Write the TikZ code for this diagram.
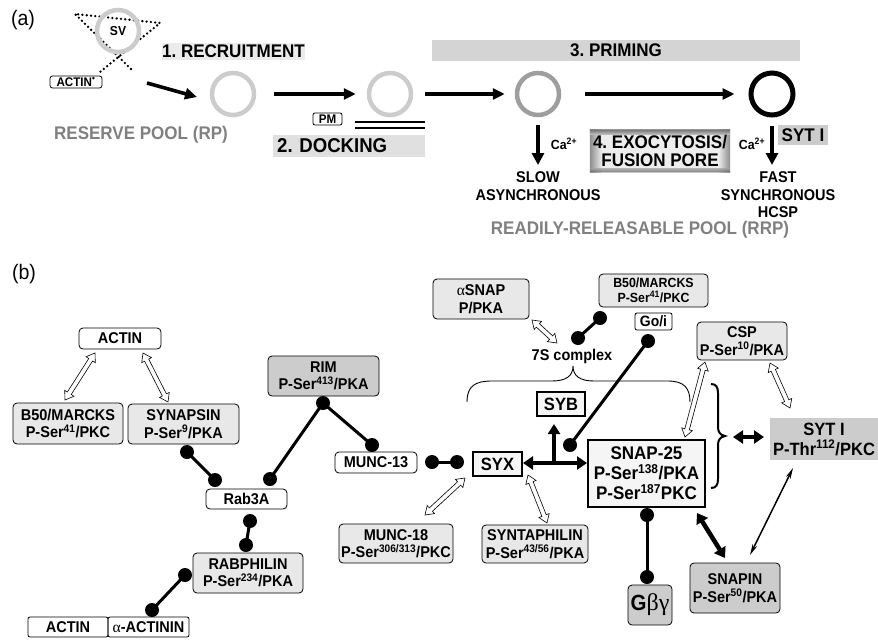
\documentclass[tikz,border=0pt]{standalone}
\usepackage{fontspec}
\setmainfont{Liberation Sans}[FakeStretch=0.93]
\newfontfamily\grk{Liberation Serif}
\usetikzlibrary{arrows.meta,calc}
\definecolor{ringL}{gray}{0.80}
\definecolor{ringM}{gray}{0.62}
\definecolor{boxL}{gray}{0.91}
\definecolor{boxD}{gray}{0.80}
\definecolor{boxT}{gray}{0.96}
\definecolor{txtG}{gray}{0.50}
\definecolor{bgA}{gray}{0.92}
\definecolor{bgB}{gray}{0.88}
\definecolor{bgC}{gray}{0.83}
\definecolor{bgD}{gray}{0.80}
\definecolor{exoD}{gray}{0.55}
\definecolor{exoL}{gray}{0.93}
\newcommand\harrow[2]{%
  \draw[harr] let \p1=($(#2)-(#1)$), \n1={atan2(\y1,\x1)}, \n2={veclen(\x1,\y1)} in
  [shift={(#1)}, rotate=\n1] (0,0) -- (8,5.5) -- (8,2.3) -- (\n2-8,2.3) -- (\n2-8,5.5) -- (\n2,0)
  -- (\n2-8,-5.5) -- (\n2-8,-2.3) -- (8,-2.3) -- (8,-5.5) -- cycle;}
\newcommand\ga{{\grk\mdseries α}}
\begin{document}
\frenchspacing
\begin{tikzpicture}[x=1pt,y=-1pt,
  pbox/.style={draw, rounded corners=4pt, line width=0.8pt, inner sep=0pt, align=center},
  tbox/.style={draw, line width=2.6pt, inner sep=0pt, align=center, fill=boxT},
  fa/.style={font=\fontsize{18.3}{20}\selectfont\bfseries},
  fb/.style={font=\fontsize{15.6}{17.5}\selectfont\bfseries},
  fc/.style={font=\fontsize{13.3}{15}\selectfont\bfseries},
  fd/.style={font=\fontsize{17.8}{20}\selectfont\bfseries},
  ring/.style={circle, draw=#1, line width=4.5pt, minimum size=42pt, inner sep=0pt},
  arr/.style={line width=3.6pt, -{Triangle[length=12pt,width=11pt]}},
  dot/.style={circle, fill, inner sep=0pt, minimum size=14pt},
  lolly/.style={line width=3pt},
  harr/.style={draw, fill=white, line width=0.6pt, line join=miter},
  barr/.style={line width=4.5pt, {Triangle[length=10pt,width=13pt]}-{Triangle[length=10pt,width=13pt]}},
]
\useasboundingbox (0,0) rectangle (878,640);

% ---------------- (a) ----------------
\node[font=\fontsize{21}{24}\selectfont] (la) at (23,20) {(a)};
\coordinate (t1) at (75,14);
\coordinate (t2) at (160,23);
\coordinate (t3) at (131,69);
\coordinate (t4) at (100,72);
\draw[line width=2.6pt, dash pattern=on 0pt off 4.3pt, line cap=round] (t3) -- (t1) -- (t2) -- (t4);
\node[ring=ringL, font=\fontsize{13}{14}\selectfont\bfseries] (sv) at (118,31) {SV};
\node[pbox, fill=white, rounded corners=2.5pt, minimum width=52pt, minimum height=12pt,
      font=\fontsize{12.5}{13}\selectfont\bfseries] (actinS) at (76,82) {ACTIN\textsuperscript{•}};

\node[ring=ringL] (rp) at (233,94) {};
\node[ring=ringL] (c3) at (390,94) {};
\node[ring=ringM] (c4) at (538,94) {};
\node[ring=black, line width=5pt] (c5) at (772,94) {};

\coordinate (a1s) at (147,83);
\coordinate (a1e) at (197,97);
\draw[arr] (a1s) -- (a1e);
\draw[arr, shorten <=18pt, shorten >=11pt] (rp) -- (c3);
\draw[arr, shorten <=12pt, shorten >=10pt] (c3) -- (c4);
\draw[arr, shorten <=24pt, shorten >=14pt] (c4) -- (c5);

\node[fill=bgA, fa, inner sep=0pt, minimum width=143pt, minimum height=17pt] (rec) at (233.5,51.5) {1. RECRUITMENT};
\node[fa, text=txtG] (rpl) at (141,135) {RESERVE POOL (RP)};
\node[pbox, fill=white, rounded corners=2pt, minimum width=29pt, minimum height=12pt,
      font=\fontsize{12.5}{13}\selectfont\bfseries] (pm) at (327.5,119) {PM};
\coordinate (m1a) at (355,122); \coordinate (m1b) at (425,122);
\coordinate (m2a) at (355,128); \coordinate (m2b) at (425,128);
\draw[line width=2pt] (m1a) -- (m1b);
\draw[line width=2pt] (m2a) -- (m2b);
\node[fill=bgB, font=\fontsize{20}{22}\selectfont\bfseries, anchor=west, inner xsep=4pt, inner ysep=0pt,
      text width=144pt, align=left, minimum height=22pt] (dock) at (273,146) {2. DOCKING};
\node[fill=bgC, fa, inner sep=0pt, minimum width=368pt, minimum height=21pt] (prim) at (616,50.5) {3. PRIMING};

\coordinate (sa) at (538,165);
\coordinate (fa) at (772,165);
\draw[line width=4pt, -{Triangle[length=12pt,width=12pt]}, shorten <=8pt] (c4) -- (sa);
\draw[line width=4pt, -{Triangle[length=12pt,width=12pt]}, shorten <=8pt] (c5) -- (fa);
\node[fc] (ca1) at (564,144) {Ca\textsuperscript{2+}};
\node[fc] (ca2) at (752,144) {Ca\textsuperscript{2+}};

% exocytosis box: light centre, darker edges
\node[fill=exoL, inner sep=0pt, minimum width=140pt, minimum height=42pt] (exo) at (660,151) {};
\fill[left color=exoD, right color=exoL] (exo.north west) rectangle ([xshift=12pt]exo.south west);
\fill[left color=exoL, right color=exoD] ([xshift=-12pt]exo.north east) rectangle (exo.south east);
\fill[top color=exoD, bottom color=exoL, opacity=0.8] (exo.north west) rectangle ([yshift=-5pt]exo.north east);
\fill[top color=exoL, bottom color=exoD, opacity=0.5] ([yshift=4pt]exo.south west) rectangle (exo.south east);
\node[align=center, font=\fontsize{18.3}{18}\selectfont\bfseries] (exot) at (exo) {4. EXOCYTOSIS/\\FUSION PORE};
\node[fill=bgD, fa, inner sep=0pt, minimum width=50pt, minimum height=20pt] (sytA) at (803,135) {SYT I};

\node[font=\fontsize{15.6}{18}\selectfont\bfseries, align=center] (slow) at (538,186) {SLOW\\ASYNCHRONOUS};
\node[font=\fontsize{15.6}{17.5}\selectfont\bfseries, align=center] (fast) at (778,195) {FAST\\SYNCHRONOUS\\HCSP};
\node[fa, text=txtG] (rrp) at (640,230) {READILY-RELEASABLE POOL (RRP)};

% ---------------- (b) ----------------
\node[font=\fontsize{21}{24}\selectfont] (lb) at (24,274) {(b)};

\node[pbox, fb, minimum width=82pt, minimum height=21pt] (actinT) at (120,338.5) {ACTIN};
\node[pbox, fb, fill=boxL, minimum width=110pt, minimum height=41pt] (b50L) at (68,423.5) {B50/MARCKS\\P-Ser\textsuperscript{41}/PKC};
\node[pbox, fb, fill=boxL, minimum width=111pt, minimum height=40pt] (synapsin) at (183.5,424) {SYNAPSIN\\P-Ser\textsuperscript{9}/PKA};
\node[pbox, fb, fill=boxD, minimum width=111pt, minimum height=40pt] (rim) at (323.5,376) {RIM\\P-Ser\textsuperscript{413}/PKA};
\node[pbox, fb, minimum width=82pt, minimum height=21pt] (munc13) at (376,462.5) {MUNC-13};
\node[pbox, fb, minimum width=81pt, minimum height=20pt] (rab) at (246.5,499) {Rab3A};
\node[pbox, fb, fill=boxL, minimum width=110pt, minimum height=40pt] (rabph) at (248,573) {RABPHILIN\\P-Ser\textsuperscript{234}/PKA};
\node[pbox, fb, rounded corners=2pt, minimum width=80pt, minimum height=20pt] (actinB) at (68,627) {ACTIN};
\node[pbox, fb, rounded corners=2pt, minimum width=81pt, minimum height=20pt] (actinin) at (148.5,627) {\ga-ACTININ};
\node[pbox, fb, fill=boxL, minimum width=114pt, minimum height=39pt] (munc18) at (396,543.5) {MUNC-18\\P-Ser\textsuperscript{306/313}/PKC};
\node[pbox, fb, fill=boxL, minimum width=96pt, minimum height=40pt] (asnap) at (481,299) {\ga SNAP\\P/PKA};
\node[pbox, fc, fill=boxL, minimum width=109pt, minimum height=33pt] (b50R) at (653.5,290.5) {B50/MARCKS\\P-Ser\textsuperscript{41}/PKC};
\node[pbox, rounded corners=2pt, font=\fontsize{15}{16}\selectfont\bfseries, minimum width=37pt, minimum height=17pt] (goi) at (653.5,321.5) {Go/i};
\node[fb] (s7) at (572,356) {7S complex};
\node[tbox, fd, minimum width=48pt, minimum height=24pt] (syb) at (561,404) {SYB};
\node[tbox, fd, minimum width=49pt, minimum height=24pt] (syx) at (497.5,464) {SYX};
\node[pbox, fb, fill=boxL, minimum width=106pt, minimum height=38pt] (synta) at (535,544) {SYNTAPHILIN\\P-Ser\textsuperscript{43/56}/PKA};
\node[tbox, font=\fontsize{18.3}{20}\selectfont\bfseries, minimum width=117pt, minimum height=67pt] (snap) at (646.5,473.5) {SNAP-25\\P-Ser\textsuperscript{138}/PKA\\P-Ser\textsuperscript{187}PKC};
\node[pbox, fb, fill=boxL, minimum width=90pt, minimum height=38pt] (csp) at (742,341) {CSP\\P-Ser\textsuperscript{10}/PKA};
\node[fill=boxD, fd, inner sep=0pt, align=center, minimum width=108pt, minimum height=42pt] (sytB) at (824,439) {SYT I\\P-Thr\textsuperscript{112}/PKC};
\node[pbox, fb, fill=boxD, minimum width=90pt, minimum height=50pt] (snapin) at (735,588) {SNAPIN\\P-Ser\textsuperscript{50}/PKA};
\node[pbox, fill=boxD, minimum width=44pt, minimum height=40pt, font=\fontsize{22}{24}\selectfont\bfseries] (gbg) at (650,605) {G{\grk\mdseries\fontsize{24}{24}\selectfont βγ}};

% lollipop connectors
\node[dot] (d1) at (187,452) {};  \node[dot] (d2) at (215,480) {};
\node[dot] (r0) at (323,403) {};  \node[dot] (r1) at (270,479) {};  \node[dot] (r2) at (372,445) {};
\node[dot] (m1) at (432,462) {};  \node[dot] (m2) at (457,462) {};
\node[dot] (rb1) at (250,521) {}; \node[dot] (rb2) at (246,545) {};
\node[dot] (ra1) at (185,575) {}; \node[dot] (ra2) at (152,610) {};
\node[dot] (s1) at (578,338) {};  \node[dot] (s2) at (600,318) {};
\node[dot] (g1) at (648,341) {};  \node[dot] (g2) at (570,445) {};
\node[dot] (n1) at (647,515) {};  \node[dot] (n2) at (647,577) {};
\draw[lolly] (d1.center) -- (d2.center);
\draw[lolly] (r1.center) -- (r0.center) -- (r2.center);
\draw[lolly] (m1.center) -- (m2.center);
\draw[lolly] (rb1.center) -- (rb2.center);
\draw[lolly] (ra1.center) -- (ra2.center);
\draw[lolly] (s1.center) -- (s2.center);
\draw[lolly] (g1.center) -- (g2.center);
\draw[lolly] (n1.center) -- (n2.center);

% hollow double arrows
\coordinate (h1a) at (95,353);  \coordinate (h1b) at (65,400);
\coordinate (h2a) at (143,353); \coordinate (h2b) at (168,402);
\coordinate (h3a) at (532,320); \coordinate (h3b) at (557,343);
\coordinate (h4a) at (465,478); \coordinate (h4b) at (425,515);
\coordinate (h5a) at (528,475); \coordinate (h5b) at (547,523);
\coordinate (h6a) at (685,437); \coordinate (h6b) at (705,362);
\coordinate (h7a) at (770,363); \coordinate (h7b) at (790,408);
\harrow{h1a}{h1b}
\harrow{h2a}{h2b}
\harrow{h3a}{h3b}
\harrow{h4a}{h4b}
\harrow{h5a}{h5b}
\harrow{h6a}{h6b}
\harrow{h7a}{h7b}

% black arrows
\coordinate (x1) at (523,463); \coordinate (x2) at (587,463);
\coordinate (xm) at (554,465); \coordinate (xu) at (554,424);
\draw[barr] (x1) -- (x2);
\draw[line width=4pt, -{Triangle[length=10pt,width=12pt]}] (xm) -- (xu);
\coordinate (y1) at (733,437); \coordinate (y2) at (764,437);
\draw[barr] (y1) -- (y2);
\coordinate (z1) at (697,513); \coordinate (z2) at (725,558);
\draw[barr] (z1) -- (z2);
\coordinate (w1) at (793,468); \coordinate (w2) at (750,555);
\draw[line width=1.5pt, {Stealth[length=11pt,width=5pt]}-{Stealth[length=11pt,width=5pt]}] (w1) -- (w2);

% braces
\draw[line width=0.9pt] (467,402) .. controls (467,386) and (475,381) .. (492,381) -- (552,381)
  .. controls (566,381) and (573,376) .. (573,366)
  .. controls (573,376) and (580,381) .. (594,381) -- (668,381)
  .. controls (684,381) and (690,388) .. (690,402);
\draw[line width=2pt] (711,384) .. controls (716,384) and (718,387) .. (718,393) -- (718,427)
  .. controls (718,432) and (720,435) .. (725,436)
  .. controls (720,437) and (718,440) .. (718,445) -- (718,479)
  .. controls (718,485) and (716,488) .. (711,488);
\end{tikzpicture}
\end{document}
